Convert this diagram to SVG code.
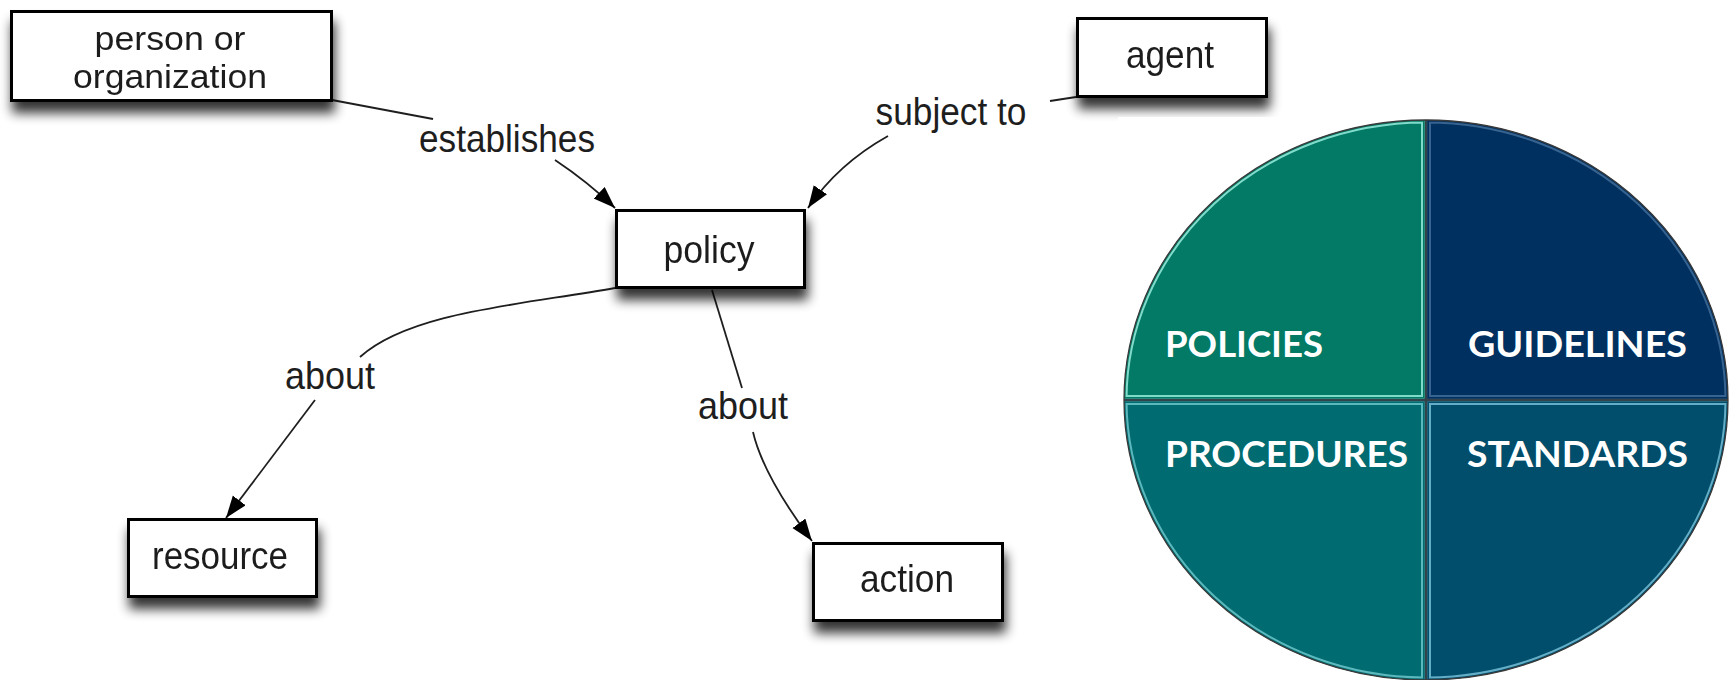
<svg xmlns="http://www.w3.org/2000/svg" xmlns:xlink="http://www.w3.org/1999/xlink" width="1729" height="680" viewBox="0 0 1729 680">
<style>
.box{fill:#ffffff;stroke:#000000;stroke-width:3;}
.lbl{font-family:"Liberation Sans",Arial,sans-serif;font-size:39px;fill:#1e1e1e;text-anchor:middle;}
.two{font-size:33px;}
.edge{fill:none;stroke:#1e1e1e;stroke-width:1.8;}
.pie{font-family:Lato,"Open Sans",sans-serif;font-weight:bold;font-size:37px;fill:#ffffff;}
</style>
<defs>
<filter id="sh" x="-20%" y="-30%" width="140%" height="190%">
<feGaussianBlur in="SourceAlpha" stdDeviation="6"/>
<feOffset dx="2" dy="11" result="b"/>
<feComponentTransfer><feFuncA type="linear" slope="0.8"/></feComponentTransfer>
<feMerge><feMergeNode/><feMergeNode in="SourceGraphic"/></feMerge>
</filter>
<marker id="arr" markerUnits="userSpaceOnUse" markerWidth="24" markerHeight="18" refX="22" refY="8" orient="auto">
<path d="M0,0 L22,8 L0,16 Z" fill="#000000"/>
</marker>
<path id="qTL" d="M1424.5,398.5 L1424.5,120 A302,280 0 0 0 1124,398.5 Z"/>
<path id="qTR" d="M1427.5,398.5 L1427.5,120 A302,280 0 0 1 1728,398.5 Z"/>
<path id="qBL" d="M1424.5,401.5 L1124,401.5 A302,280 0 0 0 1424.5,680 Z"/>
<path id="qBR" d="M1427.5,401.5 L1728,401.5 A302,280 0 0 1 1427.5,680 Z"/>
<clipPath id="cTL"><use xlink:href="#qTL"/></clipPath>
<clipPath id="cTR"><use xlink:href="#qTR"/></clipPath>
<clipPath id="cBL"><use xlink:href="#qBL"/></clipPath>
<clipPath id="cBR"><use xlink:href="#qBR"/></clipPath>
</defs>
<rect x="0" y="0" width="1729" height="680" fill="#ffffff"/>

<g id="connectors">
<path class="edge" d="M332,100 L433,119"/>
<path class="edge" d="M555,160 Q588,182 615,208" marker-end="url(#arr)"/>
<path class="edge" d="M1076,97 L1050,101"/>
<path class="edge" d="M888,136 Q838,164 808,208" marker-end="url(#arr)"/>
<path class="edge" d="M615,288 C520,305 410,312 360,357"/>
<path class="edge" d="M315,400 L226,518" marker-end="url(#arr)"/>
<path class="edge" d="M712,290 L742,388"/>
<path class="edge" d="M753,432 Q763,475 812,541" marker-end="url(#arr)"/>
<text class="lbl" x="507" y="152" textLength="176" lengthAdjust="spacingAndGlyphs">establishes</text>
<text class="lbl" x="951" y="125" textLength="151" lengthAdjust="spacingAndGlyphs">subject to</text>
<text class="lbl" x="330" y="389" textLength="90" lengthAdjust="spacingAndGlyphs">about</text>
<text class="lbl" x="743" y="419" textLength="90" lengthAdjust="spacingAndGlyphs">about</text>
</g>

<g id="person" filter="url(#sh)">
<rect class="box" x="11.5" y="11.5" width="320" height="89"/>
<text class="lbl two" x="170" y="50" textLength="151" lengthAdjust="spacingAndGlyphs">person or</text>
<text class="lbl two" x="170" y="88" textLength="194" lengthAdjust="spacingAndGlyphs">organization</text>
</g>

<g id="policy" filter="url(#sh)">
<rect class="box" x="616.5" y="210.5" width="188" height="77"/>
<text class="lbl" x="709" y="263" textLength="91" lengthAdjust="spacingAndGlyphs">policy</text>
</g>

<g id="agent" filter="url(#sh)">
<rect class="box" x="1077.5" y="18.5" width="189" height="78"/>
<text class="lbl" x="1170" y="68" textLength="88" lengthAdjust="spacingAndGlyphs">agent</text>
</g>

<g id="resource" filter="url(#sh)">
<rect class="box" x="128.5" y="519.5" width="188" height="77"/>
<text class="lbl" x="220" y="569" textLength="136" lengthAdjust="spacingAndGlyphs">resource</text>
</g>

<g id="action" filter="url(#sh)">
<rect class="box" x="813.5" y="543.5" width="189" height="77"/>
<text class="lbl" x="907" y="592" textLength="94" lengthAdjust="spacingAndGlyphs">action</text>
</g>

<g id="pie">
<rect x="1118" y="117" width="611" height="563" fill="#ffffff"/>
<ellipse cx="1426" cy="400" rx="302" ry="280" fill="#34434a"/>
<use xlink:href="#qTL" fill="#027A65"/>
<use xlink:href="#qTL" fill="none" stroke="#8fe6d6" stroke-width="7" opacity="0.9" clip-path="url(#cTL)"/>
<use xlink:href="#qTL" fill="none" stroke="#027A65" stroke-width="3" clip-path="url(#cTL)"/>
<use xlink:href="#qTR" fill="#00305F"/>
<use xlink:href="#qTR" fill="none" stroke="#5a86b0" stroke-width="7" opacity="0.6" clip-path="url(#cTR)"/>
<use xlink:href="#qTR" fill="none" stroke="#00305F" stroke-width="3" clip-path="url(#cTR)"/>
<use xlink:href="#qBL" fill="#006B70"/>
<use xlink:href="#qBL" fill="none" stroke="#7ad2d6" stroke-width="7" opacity="0.75" clip-path="url(#cBL)"/>
<use xlink:href="#qBL" fill="none" stroke="#006B70" stroke-width="3" clip-path="url(#cBL)"/>
<use xlink:href="#qBR" fill="#004E6B"/>
<use xlink:href="#qBR" fill="none" stroke="#7cc6de" stroke-width="7" opacity="0.8" clip-path="url(#cBR)"/>
<use xlink:href="#qBR" fill="none" stroke="#004E6B" stroke-width="3" clip-path="url(#cBR)"/>
<ellipse cx="1426" cy="400" rx="302" ry="280" fill="none" stroke="#3a3a3a" stroke-width="1.3"/>
<text class="pie" x="1165" y="357" textLength="158" lengthAdjust="spacingAndGlyphs">POLICIES</text>
<text class="pie" x="1468" y="357" textLength="219" lengthAdjust="spacingAndGlyphs">GUIDELINES</text>
<text class="pie" x="1165" y="467" textLength="243" lengthAdjust="spacingAndGlyphs">PROCEDURES</text>
<text class="pie" x="1467" y="467" textLength="221" lengthAdjust="spacingAndGlyphs">STANDARDS</text>
</g>
</svg>
